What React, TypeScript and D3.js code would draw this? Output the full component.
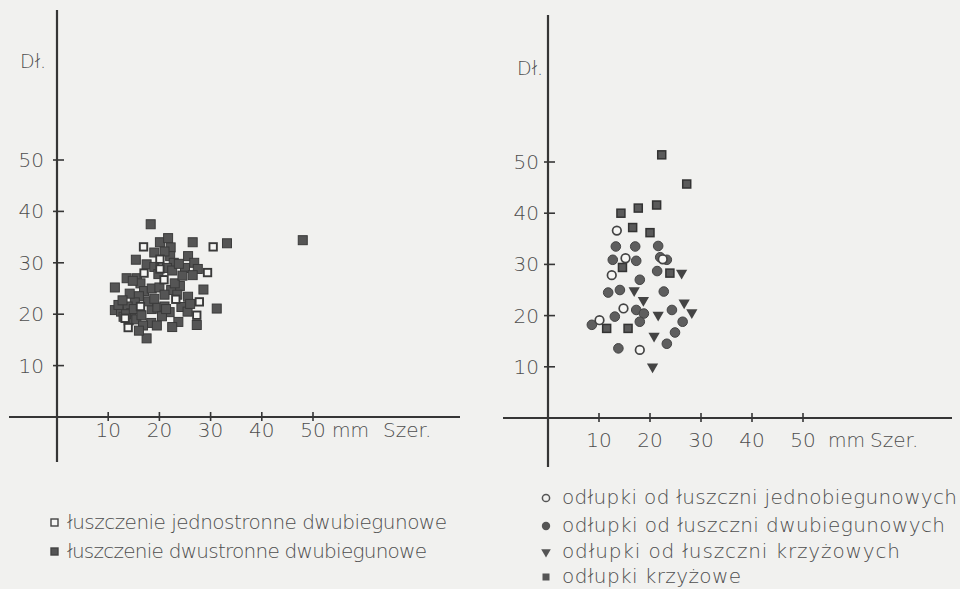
import { useEffect, useRef } from 'react';
import * as d3 from 'd3';

// values in mm (szerokość, długość)
const TICKS = [10, 20, 30, 40, 50];

const leftFilled: [number, number][] = [
  [18.3, 37.5], [20.1, 34], [21.7, 34.8], [22.2, 33], [26.5, 34], [33.2, 33.8], [48, 34.4],
  [15.4, 30.6], [17.5, 29.7], [19, 29.2], [22.1, 31.3], [22.8, 30], [21.5, 29], [25.6, 31.3],
  [26.8, 30], [25, 29], [27.5, 28.8], [26.5, 27.6], [13.6, 27], [15.6, 27], [16.3, 26],
  [14.8, 26.5], [11.3, 25.2], [17, 24.5], [18.5, 25], [20, 25.2], [24, 25.5], [22.3, 24.7],
  [28.6, 24.8], [25.6, 23.4], [16, 23.5], [15.2, 22.3], [23.5, 23.8], [31.2, 21.1],
  [11.3, 20.8], [12.5, 20.5], [13.8, 21.5], [14.5, 20.2], [13, 19.5], [14, 18.8], [15.5, 19],
  [18.5, 21], [19.6, 21.3], [21, 21.5], [22, 20.4], [20.5, 19.6], [24.3, 21.4], [25.5, 20.5],
  [18.4, 18.3], [16.8, 17.8], [23.7, 18.5], [27.3, 17.9], [17.5, 15.3], [16, 16.8], [21.3, 21],
  [22.5, 28.5], [19.8, 27.8], [12, 21.8], [13.5, 20], [15, 21], [16.5, 19.8], [17.8, 22.5],
  [19, 23], [21, 23.8], [23, 26], [24.5, 27.5], [19, 32], [21, 32.2], [23.8, 29.8],
  [14.2, 24], [12.8, 22.7], [26, 22], [19.5, 17.8], [22.5, 17.5],
];

const leftOpen: [number, number][] = [
  [16.9, 33.1], [30.5, 33.1], [20.1, 30.7], [20.1, 28.8], [29.4, 28.1], [20.9, 26.7],
  [23.2, 22.9], [27.8, 22.4], [16.3, 21.5], [27.3, 19.8], [13.3, 19.2], [13.9, 17.4],
  [17, 28],
];

const rightSquares: [number, number][] = [
  [22.3, 51.4], [27.2, 45.7], [14.3, 40], [17.7, 41], [21.3, 41.6], [16.6, 37.2], [20, 36.2],
  [14.6, 29.4], [23.9, 28.3], [11.5, 17.5], [15.7, 17.5],
];

const rightFilledCircles: [number, number][] = [
  [13.3, 33.5], [17.1, 33.5], [21.6, 33.6], [12.7, 30.9], [17.3, 30.7], [22, 31.4],
  [23.3, 30.9], [21.4, 28.7], [18, 27], [11.8, 24.5], [14.1, 25], [22.7, 24.7], [17.3, 21.1],
  [18.8, 20.4], [24.3, 21.1], [13.1, 19.8], [8.6, 18.2], [18, 18.8], [26.4, 18.8], [24.9, 16.7],
  [13.8, 13.6], [23.3, 14.5],
];

const rightOpenCircles: [number, number][] = [
  [13.5, 36.6], [12.5, 27.9], [14.8, 21.4], [10.1, 19.1], [18, 13.3], [15.2, 31.2], [22.5, 31],
];

const rightTriangles: [number, number][] = [
  [26.2, 28.3], [16.9, 24.9], [18.7, 23], [26.7, 22.5], [28.2, 20.6], [21.6, 20.1],
  [20.8, 16], [20.5, 10],
];

const leftLegend = ['łuszczenie jednostronne dwubiegunowe', 'łuszczenie dwustronne dwubiegunowe'];
const rightLegend = [
  'odłupki od łuszczni jednobiegunowych',
  'odłupki  od łuszczni dwubiegunowych',
  'odłupki  od łuszczni krzyżowych',
  'odłupki krzyżowe',
];

const FONT = "'DejaVu Sans', 'Noto Sans', sans-serif";
const INK = '#363636';
const TXT = '#4e4e4e';

export default function App() {
  const svgRef = useRef<SVGSVGElement>(null);

  useEffect(() => {
    const svg = d3.select(svgRef.current);
    svg.selectAll('*').remove();
    const W = 960, H = 589;
    svg.attr('width', W).attr('height', H).attr('viewBox', `0 0 ${W} ${H}`);

    svg.append('rect').attr('width', W).attr('height', H).attr('fill', '#f1f1ef');

    const txt = (g: any, x: number, y: number, s: string, anchor = 'start', size = 19) =>
      g.append('text').attr('x', x).attr('y', y).attr('text-anchor', anchor)
        .attr('font-family', FONT).attr('font-size', size).attr('font-weight', 300)
        .attr('fill', TXT).text(s);

    // one chart frame: axes, ticks, labels
    const frame = (o: {
      x0: number; x50: number; y0: number; y50: number;
      hx: [number, number]; vy: [number, number];
      yLab: number; xLabY: number; mm: number; szer: number; dl: [number, number];
    }) => {
      const x = d3.scaleLinear().domain([0, 50]).range([o.x0, o.x50]);
      const y = d3.scaleLinear().domain([0, 50]).range([o.y0, o.y50]);
      const g = svg.append('g');
      g.append('line').attr('x1', o.hx[0]).attr('x2', o.hx[1]).attr('y1', o.y0).attr('y2', o.y0)
        .attr('stroke', INK).attr('stroke-width', 2);
      g.append('line').attr('x1', o.x0).attr('x2', o.x0).attr('y1', o.vy[0]).attr('y2', o.vy[1])
        .attr('stroke', INK).attr('stroke-width', 2.2);
      TICKS.forEach(t => {
        g.append('line').attr('x1', x(t)).attr('x2', x(t)).attr('y1', o.y0 - 5).attr('y2', o.y0 + 4)
          .attr('stroke', INK).attr('stroke-width', 1.6);
        g.append('line').attr('x1', o.x0 - 4).attr('x2', o.x0 + 7).attr('y1', y(t)).attr('y2', y(t))
          .attr('stroke', INK).attr('stroke-width', 1.6);
        txt(g, x(t), o.xLabY, String(t), 'middle', 20);
        txt(g, o.yLab, y(t) + 7, String(t), 'end', 20);
      });
      txt(g, o.mm, o.xLabY, 'mm');
      txt(g, o.szer, o.xLabY, 'Szer.', 'start', 20);
      txt(g, o.dl[0], o.dl[1], 'Dł.');
      return { g, x, y };
    };

    // left chart
    const L = frame({
      x0: 57, x50: 313, y0: 417, y50: 160, hx: [9, 460], vy: [10, 462],
      yLab: 44, xLabY: 437, mm: 332, szer: 383, dl: [20, 68],
    });
    const sq = 9;
    L.g.selectAll('rect.f').data(leftFilled).join('rect')
      .attr('x', d => L.x(d[0]) - sq / 2).attr('y', d => L.y(d[1]) - sq / 2)
      .attr('width', sq).attr('height', sq)
      .attr('fill', '#555').attr('stroke', '#3a3a3a').attr('stroke-width', 1);
    L.g.selectAll('rect.o').data(leftOpen).join('rect')
      .attr('x', d => L.x(d[0]) - sq / 2 + 0.8).attr('y', d => L.y(d[1]) - sq / 2 + 0.8)
      .attr('width', sq - 1.6).attr('height', sq - 1.6)
      .attr('fill', '#f6f6f4').attr('stroke', '#3a3a3a').attr('stroke-width', 1.9);

    // right chart
    const R = frame({
      x0: 548, x50: 803, y0: 418, y50: 162, hx: [503, 952], vy: [15, 467],
      yLab: 539, xLabY: 447, mm: 828, szer: 870, dl: [517, 75],
    });
    R.g.selectAll('rect.s').data(rightSquares).join('rect')
      .attr('x', d => R.x(d[0]) - 4).attr('y', d => R.y(d[1]) - 4)
      .attr('width', 8).attr('height', 8)
      .attr('fill', '#5a5a5a').attr('stroke', '#333').attr('stroke-width', 1.5);
    R.g.selectAll('circle.f').data(rightFilledCircles).join('circle')
      .attr('cx', d => R.x(d[0])).attr('cy', d => R.y(d[1])).attr('r', 4.8)
      .attr('fill', '#5e5e5e').attr('stroke', '#444').attr('stroke-width', 1);
    R.g.selectAll('circle.o').data(rightOpenCircles).join('circle')
      .attr('cx', d => R.x(d[0])).attr('cy', d => R.y(d[1])).attr('r', 4.3)
      .attr('fill', '#f6f6f4').attr('stroke', '#444').attr('stroke-width', 1.7);
    const tri = d3.symbol().type(d3.symbolTriangle).size(55);
    R.g.selectAll('path.t').data(rightTriangles).join('path')
      .attr('d', tri() as string)
      .attr('transform', d => `translate(${R.x(d[0])},${R.y(d[1])}) rotate(180)`)
      .attr('fill', '#444');

    // legends
    const legText = (x: number, y: number, s: string, end: number) =>
      txt(svg, x, y, s, 'start', 20).attr('textLength', end - x).attr('lengthAdjust', 'spacing');

    const leftRows = [529, 558];
    const leftEnds = [447, 427];
    leftLegend.forEach((s, i) => {
      svg.append('rect').attr('x', 51).attr('y', leftRows[i] - 10).attr('width', 7).attr('height', 7)
        .attr('fill', i === 0 ? '#f6f6f4' : '#555').attr('stroke', '#444').attr('stroke-width', 1.4);
      legText(67, leftRows[i], s, leftEnds[i]);
    });

    const rightRows = [504, 532, 558, 583];
    const rightEnds = [957, 945, 900, 741];
    rightLegend.forEach((s, i) => {
      const cx = 546, cy = rightRows[i] - 6;
      if (i === 0) svg.append('circle').attr('cx', cx).attr('cy', cy).attr('r', 3.6)
        .attr('fill', 'none').attr('stroke', '#555').attr('stroke-width', 1.5);
      if (i === 1) svg.append('circle').attr('cx', cx).attr('cy', cy).attr('r', 4.2).attr('fill', '#555');
      if (i === 2) svg.append('path').attr('d', d3.symbol().type(d3.symbolTriangle).size(40)() as string)
        .attr('transform', `translate(${cx},${cy}) rotate(180)`).attr('fill', '#555');
      if (i === 3) svg.append('rect').attr('x', cx - 3.5).attr('y', cy - 3.5).attr('width', 7).attr('height', 7)
        .attr('fill', '#555');
      legText(562, rightRows[i], s, rightEnds[i]);
    });
  }, []);

  return <svg ref={svgRef} style={{ position: 'absolute', left: 0, top: 0, display: 'block' }} />;
}
